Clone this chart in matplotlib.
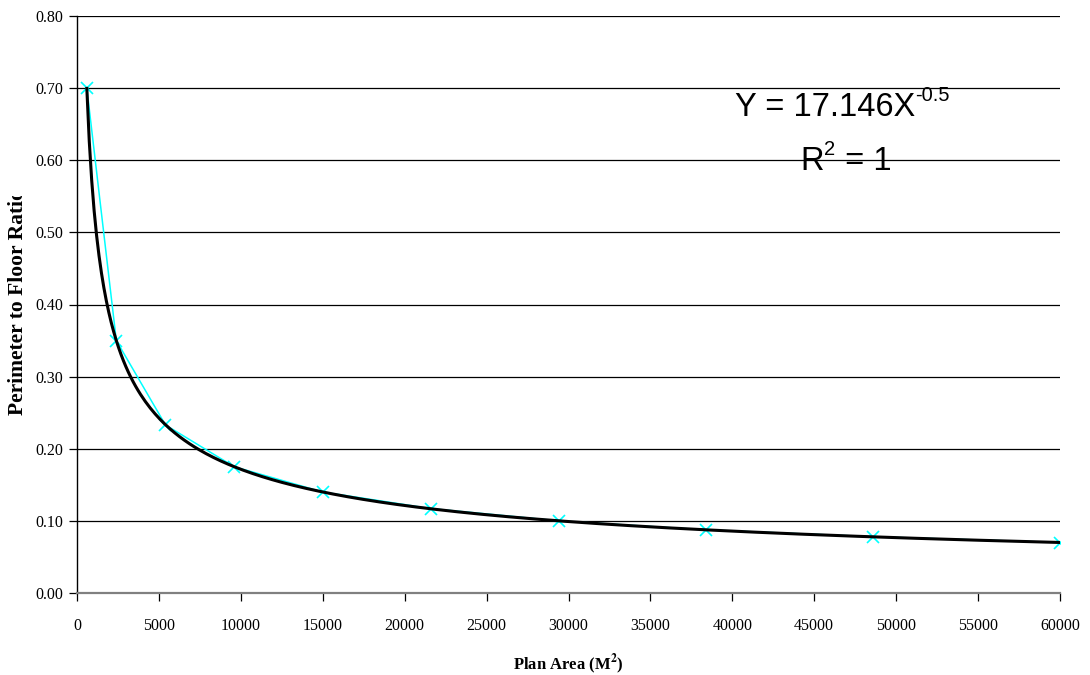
import numpy as np
import matplotlib
matplotlib.use("Agg")
import matplotlib.pyplot as plt
from matplotlib.patches import Rectangle

# datos
plan_area = [600, 2400, 5400, 9600, 15000, 21600, 29400, 38400, 48600, 60000]
ratio = [0.700, 0.350, 0.233, 0.175, 0.140, 0.117, 0.100, 0.0875, 0.078, 0.070]
x_ticks = [0, 5000, 10000, 15000, 20000, 25000, 30000, 35000, 40000, 45000, 50000, 55000, 60000]
y_ticks = [0.0, 0.1, 0.2, 0.3, 0.4, 0.5, 0.6, 0.7, 0.8]

# linea de tendencia potencial (ajuste log-log como Excel)
b, log_a = np.polyfit(np.log(plan_area), np.log(ratio), 1)
a = np.exp(log_a)
xt = np.linspace(min(plan_area), max(plan_area), 400)
yt = a * xt ** b

plt.rcParams["font.family"] = ["Liberation Serif", "DejaVu Serif"]
plt.rcParams["mathtext.fontset"] = "stix"

fig = plt.figure(figsize=(10.9, 6.75), dpi=100)
ax = fig.add_axes([77 / 1090, 1 - 593 / 675, (1060 - 77) / 1090, (593 - 16) / 675])

for yv in y_ticks[1:]:
    ax.axhline(yv, color="black", lw=0.9, zorder=1)

ax.plot(plan_area, ratio, color="#00FFFF", lw=1.1, marker="x", ms=8, mew=1.2, zorder=2)
ax.plot(xt, yt, color="black", lw=2.2, zorder=3)

ax.set_xlim(0, 60000)
ax.set_ylim(0, 0.8)
ax.set_xticks(x_ticks)
ax.set_xticklabels([str(v) for v in x_ticks])
ax.set_yticks(y_ticks)
ax.set_yticklabels(["%.2f" % v for v in y_ticks])
ax.tick_params(axis="both", direction="out", length=6, width=0.9, labelsize=11.5, color="black")
ax.tick_params(axis="x", pad=12)
ax.tick_params(axis="y", pad=4)

ax.spines["top"].set_visible(False)
ax.spines["right"].set_visible(False)
ax.spines["left"].set_linewidth(1.0)
ax.spines["bottom"].set_color("#808080")
ax.spines["bottom"].set_linewidth(1.6)

ax.set_xlabel("Plan Area (M$^{\\mathbf{2}}$)", fontsize=12, fontweight="bold", labelpad=13)

# etiqueta Y, cortada arriba como en el original
fig.text(18 / 1090, 1 - 415 / 675, "Perimeter to Floor Ratio", rotation=90,
         fontsize=15.5, fontweight="bold", ha="center", va="bottom", zorder=1)
fig.patches.append(Rectangle((0, 1 - 196 / 675), 32 / 1090, 196 / 675, transform=fig.transFigure,
                             facecolor="white", edgecolor="none", zorder=5))

sans = ["Liberation Sans", "DejaVu Sans"]
eq = fig.text(735 / 1090, 1 - 116 / 675, "Y = 17.146X", fontsize=23.5, family=sans,
              ha="left", va="baseline")
ax.annotate("-0.5", xy=(1, 1), xycoords=eq, xytext=(0, 4), textcoords="offset points",
            fontsize=14.5, family=sans, ha="left", va="top", annotation_clip=False)
r = fig.text(800 / 1090, 1 - 170 / 675, "R", fontsize=23.5, family=sans,
             ha="left", va="baseline")
ax.annotate("2", xy=(1, 1), xycoords=r, xytext=(0.5, 4), textcoords="offset points",
            fontsize=14.5, family=sans, ha="left", va="top", annotation_clip=False)
ax.annotate(" = 1", xy=(1, 0), xycoords=r, xytext=(9, 0), textcoords="offset points",
            fontsize=23.5, family=sans, ha="left", va="bottom", annotation_clip=False)

fig.savefig("out.png", dpi=100)
